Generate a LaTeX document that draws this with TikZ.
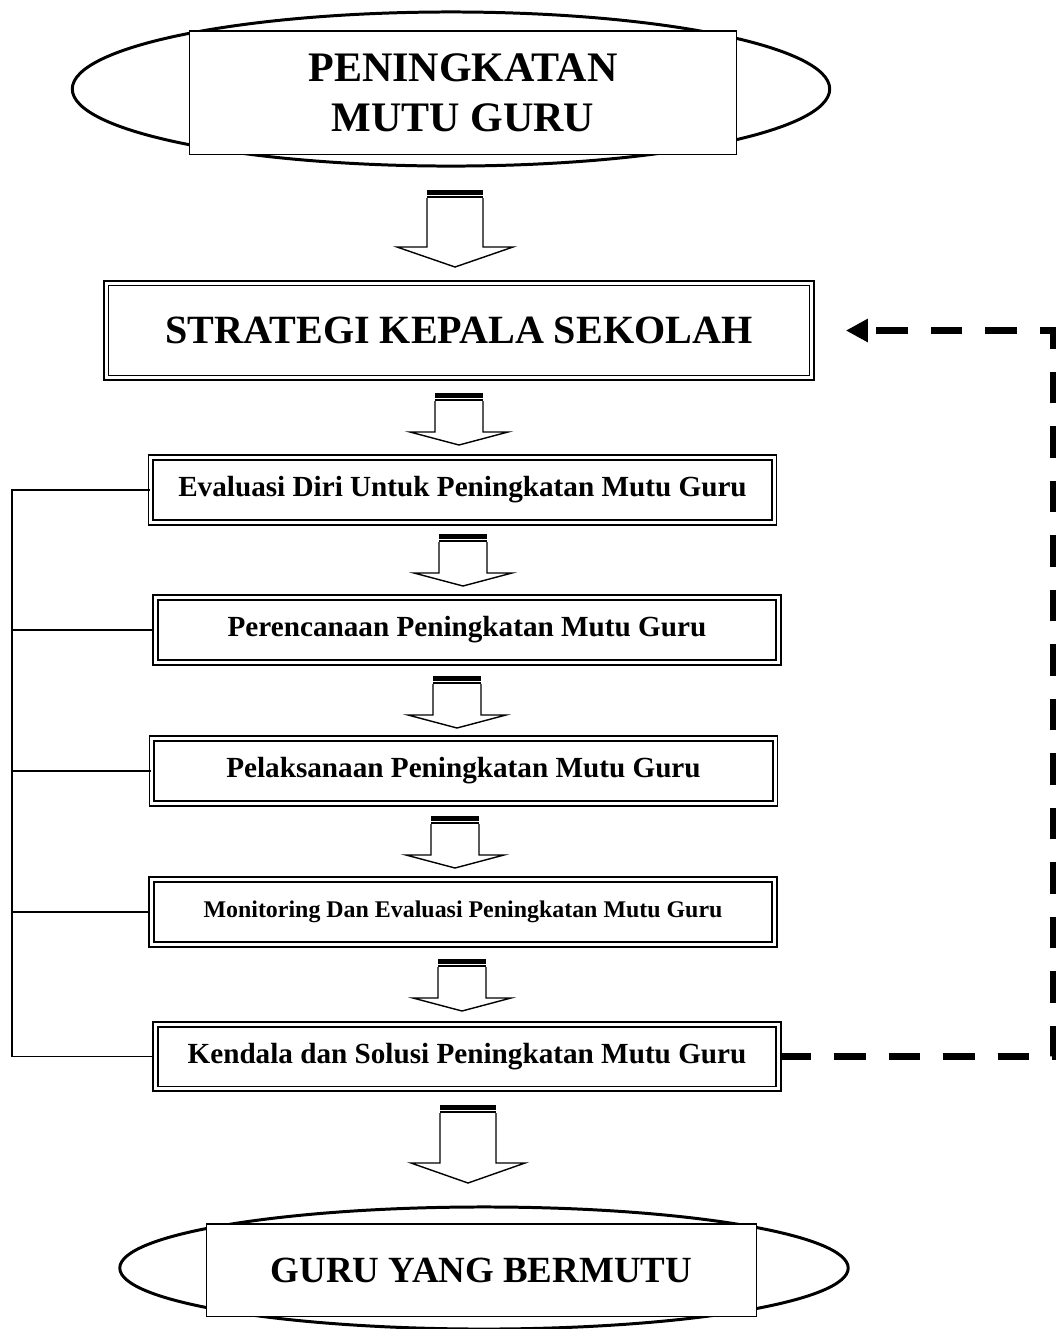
\documentclass[tikz,border=0pt]{standalone}
\usepackage{fontspec}
\setmainfont{Liberation Serif}
\usepackage{tikz}
\usetikzlibrary{shapes.geometric}
\usetikzlibrary{arrows.meta}
\usetikzlibrary{calc}

% block arrow: #1 top point, #2 half shaft, #3 half head, #4 head base, #5 tip
\newcommand{\blockarrow}[5]{%
\begin{scope}[shift={(#1)}]
\fill (-#2,0) rectangle (#2,4.5);
\fill (-#2,6) rectangle (#2,8);
\draw[fill=white,line width=0.4pt] (-#2,8)--(-#2,#4)--(-#3,#4)--(0,#5)--(#3,#4)--(#2,#4)--(#2,8);
\end{scope}}

\begin{document}
\begin{tikzpicture}[x=0.01cm,y=-0.01cm]
\tikzstyle{pill}=[draw,ellipse,line width=0.85pt,inner sep=0];
\tikzstyle{titlebox}=[draw,fill=white,line width=0.45pt,inner sep=0,align=center];
\tikzstyle{dblbox}=[draw,double,double distance=0.85pt,line width=0.5pt,inner sep=0,minimum width=6.23cm,minimum height=0.645cm];
\useasboundingbox (0,0) rectangle (1057,1329);
\node[pill,minimum width=7.57cm,minimum height=1.54cm](toppill) at (451,89) {};
\node[titlebox,minimum width=5.465cm,minimum height=1.235cm,font=\bfseries\fontsize{11.95pt}{14.2pt}\selectfont](mutu) at (463,92.5) {PENINGKATAN\\MUTU GURU};
\node[dblbox,minimum width=7.055cm,minimum height=0.945cm,font=\bfseries\fontsize{11.4pt}{13pt}\selectfont](strategi) at (459,330.5) {STRATEGI KEPALA SEKOLAH};
\node[dblbox,font=\bfseries\fontsize{8.3pt}{10pt}\selectfont](evaluasi) at (462.5,490) {Evaluasi Diri Untuk Peningkatan Mutu Guru};
\node[dblbox,font=\bfseries\fontsize{8.3pt}{10pt}\selectfont](perencanaan) at (467,630) {Perencanaan Peningkatan Mutu Guru};
\node[dblbox,font=\bfseries\fontsize{8.3pt}{10pt}\selectfont](pelaksanaan) at (463.5,771) {Pelaksanaan Peningkatan Mutu Guru};
\node[dblbox,font=\bfseries\fontsize{6.8pt}{8pt}\selectfont](monitoring) at (463,912) {Monitoring Dan Evaluasi Peningkatan Mutu Guru};
\node[dblbox,font=\bfseries\fontsize{8.3pt}{10pt}\selectfont](kendala) at (467,1056.5) {Kendala dan Solusi Peningkatan Mutu Guru};
\node[pill,minimum width=7.28cm,minimum height=1.22cm](botpill) at (484,1268) {};
\node[titlebox,minimum width=5.5cm,minimum height=0.925cm,font=\bfseries\fontsize{10.5pt}{12pt}\selectfont](bermutu) at (481.5,1270) {GURU YANG BERMUTU};
% block arrows
\coordinate(ar1) at (455,190);
\coordinate(ar2) at (459,393);
\coordinate(ar3) at (463,534);
\coordinate(ar4) at (457,676);
\coordinate(ar5) at (455,816);
\coordinate(ar6) at (462,959);
\coordinate(ar7) at (468,1105);
\blockarrow{ar1}{28}{58}{57}{77}
\blockarrow{ar2}{24}{49}{39}{52}
\blockarrow{ar3}{24}{49}{39}{52}
\blockarrow{ar4}{24}{49}{39}{52}
\blockarrow{ar5}{24}{49}{39}{52}
\blockarrow{ar6}{24}{49}{39}{52}
\blockarrow{ar7}{28}{57}{58}{78}
% left bracket
\coordinate(rail) at (12,0);
\draw[line width=0.45pt](evaluasi.west)--(evaluasi.west-|rail)--(kendala.west-|rail)--(kendala.west);
\draw[line width=0.45pt](perencanaan.west)--(perencanaan.west-|rail)(pelaksanaan.west)--(pelaksanaan.west-|rail)(monitoring.west)--(monitoring.west-|rail);
% feedback loop
\coordinate(back) at (1053,0);
\draw[line width=1.85pt,dash pattern=on 9pt off 6.5pt,-{Triangle[length=6.3pt,width=6.3pt]}](kendala.east)--(kendala.east-|back)--(strategi.east-|back)--($(strategi.east)+(33,0)$);
\end{tikzpicture}
\end{document}
